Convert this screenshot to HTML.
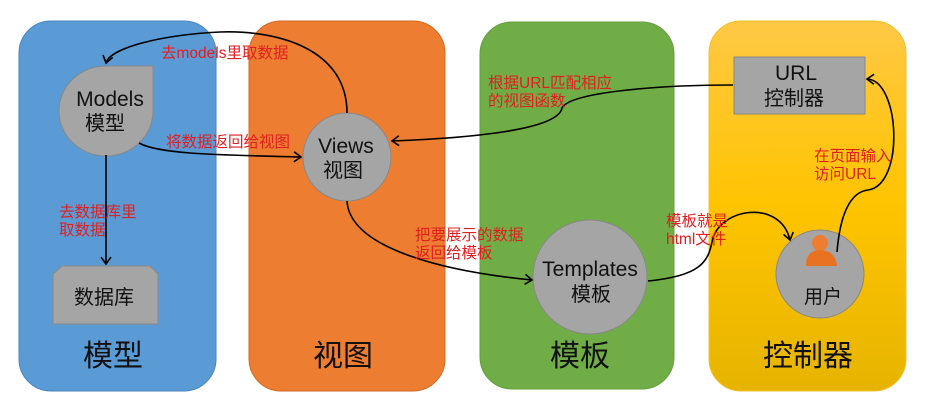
<!DOCTYPE html>
<html><head><meta charset="utf-8"><style>
body{margin:0;background:#fff;}
svg{display:block;font-family:"Liberation Sans","Noto Sans CJK SC",sans-serif;}
.r{fill:#e02020;font-size:15.5px;}
.k{fill:#111;}
</style></head><body>
<svg width="927" height="411" viewBox="0 0 927 411">
<defs>
<linearGradient id="yg" x1="0" y1="0" x2="0" y2="1">
<stop offset="0" stop-color="#ffc845"/><stop offset="0.5" stop-color="#ffc400"/><stop offset="1" stop-color="#e6b400"/>
</linearGradient>
<marker id="a" markerWidth="12" markerHeight="12" refX="9" refY="6" orient="auto" markerUnits="userSpaceOnUse">
<path d="M2,1 L9,6 L2,11" fill="none" stroke="#000" stroke-width="1.6"/>
</marker>
</defs>
<rect x="19" y="21" width="197" height="370" rx="32" fill="#5b9bd5" stroke="#4a86c0"/>
<rect x="249" y="21" width="196" height="370" rx="32" fill="#ed7d31" stroke="#d06a25"/>
<rect x="480" y="22" width="194" height="367" rx="32" fill="#70ad47" stroke="#63a03e"/>
<rect x="709" y="21" width="197" height="370" rx="32" fill="url(#yg)" stroke="#f0c030"/>

<path d="M106,66 L153,66 L153,110 A47,45 0 1 1 106,66 Z" fill="#a5a5a5" stroke="#888"/>
<text x="110" y="106" font-size="21" text-anchor="middle" class="k">Models</text>
<text x="105" y="130" font-size="20" text-anchor="middle" class="k">模型</text>
<path d="M62,266 L150,266 L158,274 L158,324 L53,324 L53,274 Z" fill="#a5a5a5" stroke="#888"/>
<text x="104" y="304" font-size="20" text-anchor="middle" class="k">数据库</text>
<circle cx="347" cy="157" r="44" fill="#a5a5a5" stroke="#888"/>
<text x="346" y="153" font-size="21" text-anchor="middle" class="k">Views</text>
<text x="343" y="177" font-size="20" text-anchor="middle" class="k">视图</text>
<circle cx="590" cy="277" r="57" fill="#a5a5a5" stroke="#888"/>
<text x="590" y="276" font-size="21" text-anchor="middle" class="k">Templates</text>
<text x="591" y="301" font-size="20" text-anchor="middle" class="k">模板</text>
<rect x="734" y="57" width="131" height="57" fill="#a5a5a5" stroke="#888"/>
<text x="796" y="80" font-size="21" text-anchor="middle" class="k">URL</text>
<text x="794" y="105" font-size="20" text-anchor="middle" class="k">控制器</text>
<circle cx="820" cy="274" r="44" fill="#a5a5a5" stroke="#888"/>
<circle cx="820" cy="243" r="8" fill="#ed7d31"/>
<path d="M806,266 Q806,250 820,250 Q835,250 837,266 Z" fill="#e87122"/>
<text x="823" y="303" font-size="19" text-anchor="middle" class="k">用户</text>

<text x="113" y="366" font-size="30" text-anchor="middle" class="k">模型</text>
<text x="343" y="366" font-size="30" text-anchor="middle" class="k">视图</text>
<text x="580" y="366" font-size="30" text-anchor="middle" class="k">模板</text>
<text x="808" y="366" font-size="30" text-anchor="middle" class="k">控制器</text>

<g fill="none" stroke="#000" stroke-width="1.6">
<path d="M347,113 C347,50 280,30 220,32 C160,35 110,48 106,63" marker-end="url(#a)"/>
<path d="M139,143 C160,155 230,155 301,157" marker-end="url(#a)"/>
<path d="M106,155 L106,264" marker-end="url(#a)"/>
<path d="M733,85 C660,85 570,92 562,108 C558,130 470,138 392,141" marker-end="url(#a)"/>
<path d="M347,201 C350,250 450,272 532,280" marker-end="url(#a)"/>
<path d="M648,281 C700,276 708,262 712,242 C718,208 780,198 790,240" marker-end="url(#a)"/>
<path d="M837,252 C840,215 850,192 868,190 C905,185 900,80 867,79" marker-end="url(#a)"/>
</g>

<text x="161" y="58" class="r">去models里取数据</text>
<text x="166" y="147" class="r">将数据返回给视图</text>
<text x="59" y="217" class="r">去数据库里</text>
<text x="59" y="235" class="r">取数据</text>
<text x="488" y="88" class="r">根据URL匹配相应</text>
<text x="488" y="106" class="r">的视图函数</text>
<text x="415" y="240" class="r">把要展示的数据</text>
<text x="415" y="258" class="r">返回给模板</text>
<text x="666" y="226" class="r">模板就是</text>
<text x="666" y="244" class="r">html文件</text>
<text x="814" y="161" class="r">在页面输入</text>
<text x="814" y="179" class="r">访问URL</text>
</svg>
</body></html>
